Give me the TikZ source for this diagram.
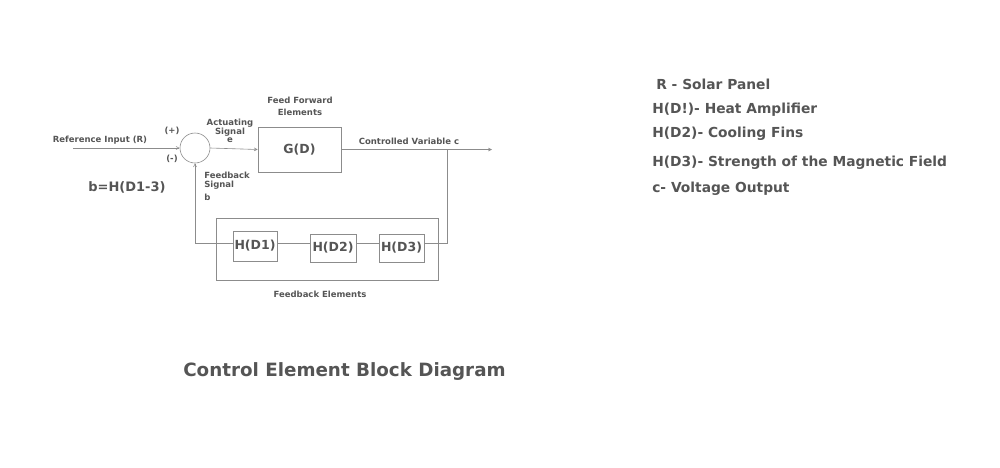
\documentclass[tikz,border=0pt]{standalone}
\usepackage{fontspec}
\setmainfont{DejaVu Sans}
\usetikzlibrary{arrows.meta}
\definecolor{ink}{HTML}{555555}
\definecolor{wire}{HTML}{8C8C8C}
\begin{document}
\begin{tikzpicture}[x=1pt,y=-1pt,line width=0.6pt,draw=wire,
  blk/.style={draw=wire,fill=white,text=ink,font=\fontsize{12.5}{12.5}\selectfont\bfseries,inner sep=0pt},
  sumcirc/.style={circle,draw=wire,minimum size=30pt,inner sep=0pt},
  lbl/.style={text=ink,font=\fontsize{8.5}{8}\selectfont\bfseries,align=center,inner sep=0pt},
  leg/.style={text=ink,font=\fontsize{13.8}{13.8}\selectfont\bfseries,anchor=west,inner sep=0pt},
  arr/.style={-{Straight Barb[length=3pt,width=3pt]}}]
\useasboundingbox (0,0) rectangle (1000,467);
% main loop
\node[sumcirc] (sum) at (195,148) {};
\node[blk,minimum width=83pt,minimum height=45pt] (g) at (299.5,149.5) {G(D)};
\node[draw=wire,minimum width=222pt,minimum height=62pt,inner sep=0pt] (fbox) at (327,249) {};
\coordinate (in) at (73,148);
\coordinate (out) at (492,149.5);
\coordinate (tap) at (447,149.5);
\coordinate (fb) at (447,243);
\node[blk,minimum width=44pt,minimum height=30pt] (h1) at (255,246) {H(D1)};
\node[blk,minimum width=46pt,minimum height=28pt] (h2) at (333,248) {H(D2)};
\node[blk,minimum width=45pt,minimum height=28pt] (h3) at (401.5,248) {H(D3)};
\draw[arr] (in) -- (sum.west);
\draw[arr] (sum.east) -- (g.west);
\draw[arr] (g.east) -- (out);
\draw (tap) -- (fb) -- (h3.east |- fb);
\draw (h3.west |- fb) -- (h2.east |- fb);
\draw (h2.west |- fb) -- (h1.east |- fb);
\draw[arr] (h1.west |- fb) -| (sum.south);
% labels
\node[lbl] (reflbl) at (100,140) {Reference Input (R)};
\node[lbl] (plus) at (172,131) {(+)};
\node[lbl] (minus) at (172,159) {(-)};
\node[lbl] (act) at (230,131) {Actuating\\Signal\\e};
\node[lbl,align=center] (fwd) at (300,106) {Feed Forward\\[4pt]Elements};
\node[lbl] (ctrl) at (409,141) {Controlled Variable c};
\node[lbl,align=left,anchor=north west] (fbsig) at (204,172) {Feedback\\[1pt]Signal\\[3pt]b};
\node[text=ink,font=\fontsize{13}{13}\selectfont\bfseries,inner sep=0pt] (beq) at (127,187) {b=H(D1-3)};
\node[lbl] (fblbl) at (320,294) {Feedback Elements};
% legend
\node[leg] (l1) at (656,84) {R - Solar Panel};
\node[leg] (l2) at (652,110) {H(D!)- Heat Amplifier};
\node[leg] (l3) at (652,134) {H(D2)- Cooling Fins};
\node[leg] (l4) at (652,163) {H(D3)- Strength of the Magnetic Field};
\node[leg] (l5) at (652,189) {c- Voltage Output};
% title
\node[text=ink,font=\fontsize{18.3}{18.3}\selectfont\bfseries,anchor=west,inner sep=0pt] (title) at (183,372) {Control Element Block Diagram};
\end{tikzpicture}
\end{document}
